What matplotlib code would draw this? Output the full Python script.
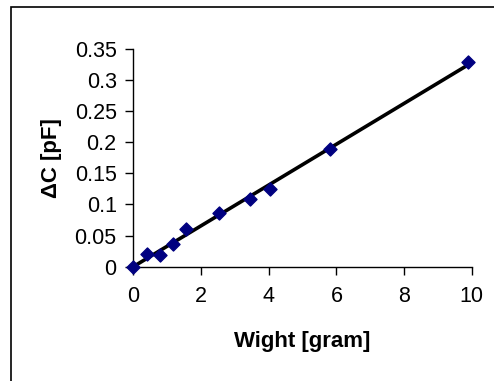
import numpy as np
import matplotlib
matplotlib.use("Agg")
import matplotlib.pyplot as plt
from matplotlib.patches import Rectangle

plt.rcParams['font.family'] = ['Liberation Sans', 'DejaVu Sans']

# measured capacitance change vs. load
weight = [0.0, 0.39, 0.79, 1.18, 1.55, 2.53, 3.44, 4.04, 5.81, 9.89]
delta_c = [0.0, 0.020, 0.018, 0.037, 0.061, 0.086, 0.108, 0.125, 0.189, 0.328]

x_ticks = [0, 2, 4, 6, 8, 10]
y_ticks = [0, 0.05, 0.1, 0.15, 0.2, 0.25, 0.3, 0.35]


def main():
    fig = plt.figure(figsize=(4.94, 3.81), dpi=100)
    ax = fig.add_axes([0.270, 0.300, 0.685, 0.572])

    # chart area border, open to the right and bottom
    fig.patches.append(Rectangle((0.022, -0.1), 1.2, 1.082, transform=fig.transFigure,
                                 fill=False, edgecolor='black', linewidth=1.2))

    # linear trend line through the points
    k, b = np.polyfit(weight, delta_c, 1)
    xs = np.array([0, max(weight)])
    ax.plot(xs, k * xs + b, color='black', linewidth=2.6, zorder=2)
    ax.scatter(weight, delta_c, marker='D', s=44, color='#000080', zorder=3,
               clip_on=False)

    ax.set_xlim(0, 10)
    ax.set_ylim(0, 0.35)
    ax.set_xticks(x_ticks)
    ax.set_yticks(y_ticks)
    ax.set_xticklabels([str(t) for t in x_ticks])
    ax.set_yticklabels(['0', '0.05', '0.1', '0.15', '0.2', '0.25', '0.3', '0.35'])
    ax.tick_params(labelsize=15.5, length=6, width=1, direction='out')
    ax.tick_params(axis='y', pad=6)
    ax.tick_params(axis='x', pad=8)

    for side in ['top', 'right']:
        ax.spines[side].set_visible(False)
    for side in ['left', 'bottom']:
        ax.spines[side].set_linewidth(1)

    ax.set_xlabel('Wight [gram]', fontsize=16, fontweight='bold', labelpad=17)
    ax.set_ylabel('ΔC [pF]', fontsize=16, fontweight='bold', labelpad=9)

    fig.savefig('out.png', dpi=100)


if __name__ == "__main__":
    main()
